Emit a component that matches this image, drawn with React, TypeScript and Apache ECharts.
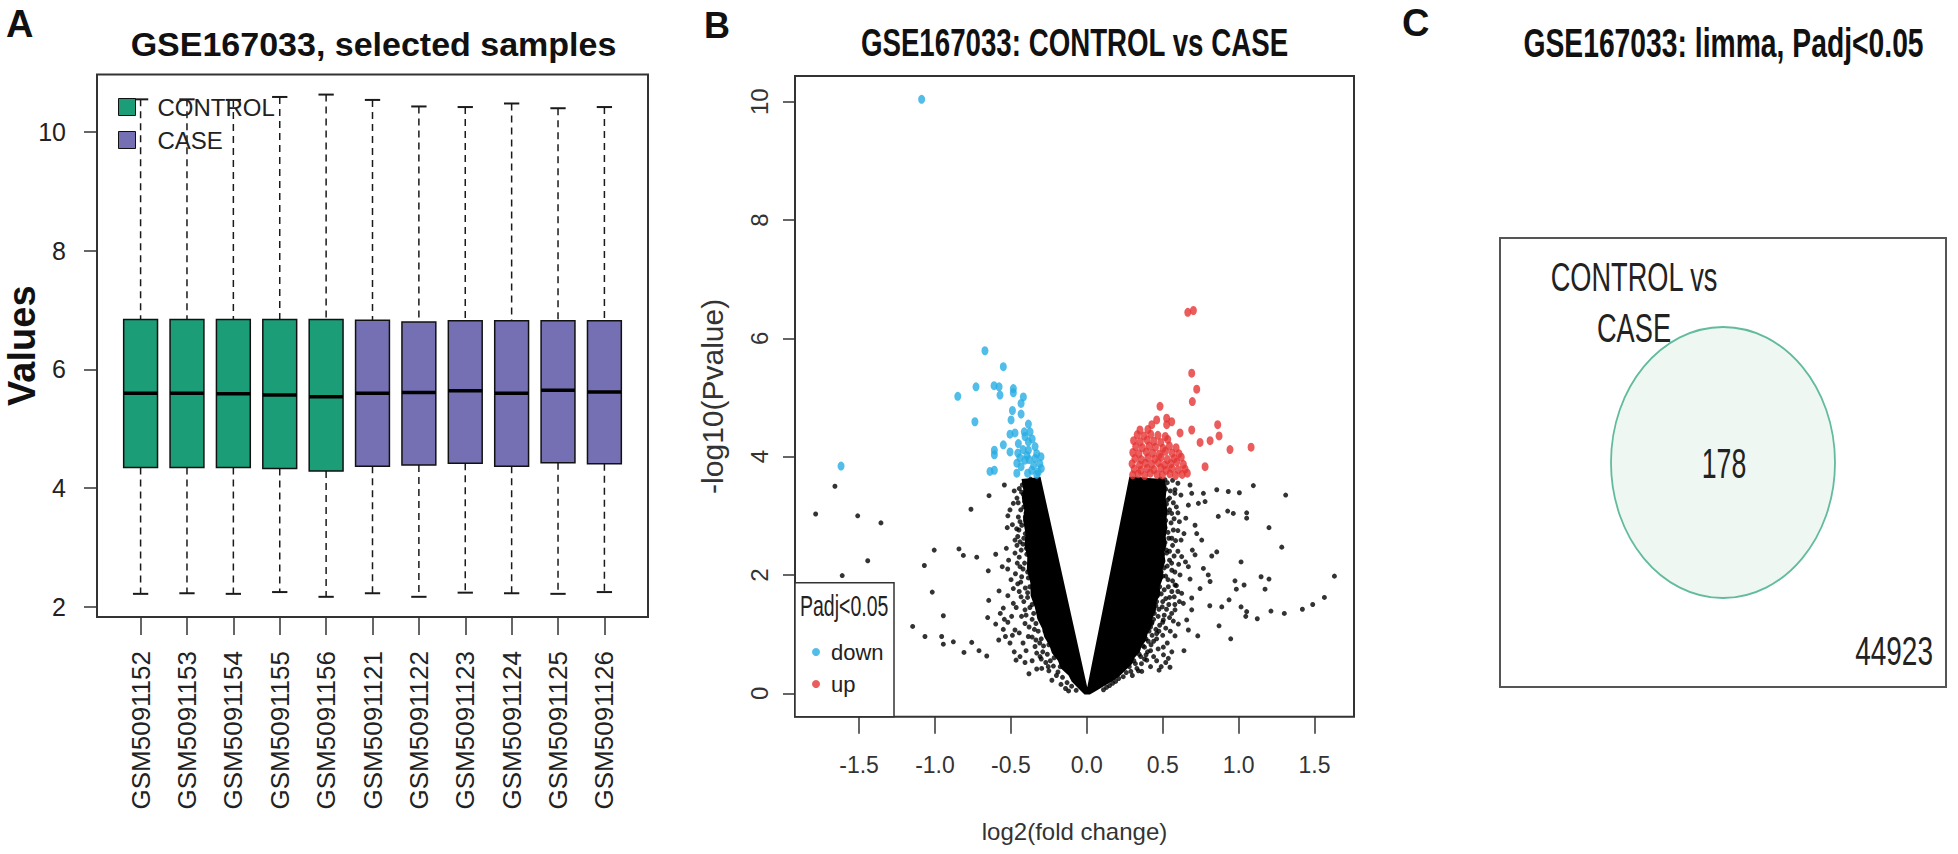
import React, { useEffect, useRef } from "react";
import * as echarts from "echarts";

const FONT = '"Liberation Sans", Arial, Helvetica, sans-serif';

// ---------------- Panel A: boxplot ----------------
const titleA = "GSE167033, selected samples";
const sampleNames = [
  "GSM5091152", "GSM5091153", "GSM5091154", "GSM5091155", "GSM5091156",
  "GSM5091121", "GSM5091122", "GSM5091123", "GSM5091124", "GSM5091125", "GSM5091126",
];
const sampleGroups = [
  "CONTROL", "CONTROL", "CONTROL", "CONTROL", "CONTROL",
  "CASE", "CASE", "CASE", "CASE", "CASE", "CASE",
];
const groupNames = ["CONTROL", "CASE"];
const groupColors = ["#1B9E77", "#7570B3"];
const boxLow = [2.22, 2.23, 2.22, 2.25, 2.17, 2.23, 2.17, 2.24, 2.23, 2.22, 2.25];
const boxQ1 = [4.35, 4.35, 4.35, 4.33, 4.29, 4.37, 4.39, 4.42, 4.37, 4.43, 4.41];
const boxMedian = [5.6, 5.6, 5.59, 5.57, 5.54, 5.6, 5.61, 5.64, 5.6, 5.65, 5.62];
const boxQ3 = [6.84, 6.84, 6.84, 6.84, 6.84, 6.83, 6.8, 6.82, 6.82, 6.82, 6.82];
const boxHigh = [10.55, 10.55, 10.54, 10.59, 10.63, 10.54, 10.43, 10.42, 10.48, 10.4, 10.42];
const boxYTicks = [2, 4, 6, 8, 10];

// ---------------- Panel B: volcano ----------------
const titleB = "GSE167033: CONTROL vs CASE";
const volcanoXTicks = [-1.5, -1.0, -0.5, 0.0, 0.5, 1.0, 1.5];
const volcanoYTicks = [0, 2, 4, 6, 8, 10];
const downPoints = [
  [-1.088, 10.04], [-1.619, 3.84], [-0.671, 5.79], [-0.55, 5.52], [-0.73, 5.18], [-0.611, 5.2],
  [-0.578, 5.18], [-0.572, 5.04], [-0.484, 5.15], [-0.484, 5.08], [-0.85, 5.02], [-0.418, 5.01],
  [-0.433, 4.9], [-0.49, 4.78], [-0.433, 4.72], [-0.499, 4.62], [-0.737, 4.59], [-0.385, 4.55],
  [-0.412, 4.42], [-0.374, 4.42], [-0.506, 4.38], [-0.473, 4.4], [-0.407, 4.34], [-0.385, 4.25],
  [-0.55, 4.2], [-0.451, 4.22], [-0.341, 4.17], [-0.609, 4.11], [-0.609, 4.03], [-0.506, 4.08],
  [-0.455, 4.06], [-0.385, 4.11], [-0.302, 4.0], [-0.341, 3.97], [-0.407, 3.94], [-0.461, 3.89],
  [-0.433, 3.83], [-0.363, 3.77], [-0.638, 3.75], [-0.609, 3.77], [-0.33, 3.7], [-0.461, 3.72],
  [-0.32, 3.74], [-0.35, 3.85], [-0.31, 3.88], [-0.38, 3.95], [-0.33, 4.05], [-0.36, 4.3],
  [-0.42, 4.12], [-0.39, 3.72], [-0.44, 3.98], [-0.3, 3.8], [-0.395, 4.02],
];
const upPoints = [
  [0.665, 6.44], [0.702, 6.47], [0.691, 5.41], [0.724, 5.14], [0.695, 4.93], [0.482, 4.85],
  [0.46, 4.62], [0.526, 4.65], [0.559, 4.59], [0.526, 4.54], [0.428, 4.54], [0.35, 4.45],
  [0.691, 4.45], [0.862, 4.54], [0.871, 4.35], [0.812, 4.27], [0.746, 4.24], [0.943, 4.12],
  [1.082, 4.16], [0.614, 4.4], [0.779, 3.83],
  [0.302, 3.69], [0.338, 3.71], [0.381, 3.68], [0.418, 3.72], [0.463, 3.7], [0.498, 3.69],
  [0.547, 3.71], [0.584, 3.68], [0.628, 3.7], [0.662, 3.72],
  [0.312, 3.79], [0.356, 3.77], [0.398, 3.8], [0.442, 3.78], [0.487, 3.81], [0.523, 3.77],
  [0.561, 3.8], [0.603, 3.78], [0.647, 3.79],
  [0.298, 3.88], [0.347, 3.86], [0.386, 3.89], [0.428, 3.87], [0.471, 3.9], [0.512, 3.86],
  [0.553, 3.88], [0.592, 3.91], [0.636, 3.87],
  [0.317, 3.97], [0.359, 3.95], [0.402, 3.98], [0.447, 3.96], [0.489, 3.99], [0.531, 3.95],
  [0.576, 3.97], [0.622, 3.99],
  [0.303, 4.07], [0.343, 4.05], [0.392, 4.08], [0.433, 4.06], [0.478, 4.04], [0.518, 4.09],
  [0.562, 4.06], [0.607, 4.05],
  [0.322, 4.17], [0.366, 4.15], [0.411, 4.18], [0.452, 4.16], [0.502, 4.14], [0.544, 4.18], [0.588, 4.15],
  [0.308, 4.27], [0.352, 4.25], [0.397, 4.28], [0.441, 4.26], [0.487, 4.24], [0.533, 4.29],
  [0.332, 4.37], [0.376, 4.35], [0.421, 4.38], [0.468, 4.36], [0.517, 4.34], [0.402, 4.46],
];
const nsPoints = [
  // left side, sparse
  [-1.659, 3.5], [-1.786, 3.03], [-1.509, 3.0], [-1.356, 2.88], [-1.443, 2.24], [-1.611, 1.99],
  [-0.763, 3.11], [-0.644, 3.34], [-0.543, 3.52], [-0.524, 2.8], [-1.005, 2.42], [-0.842, 2.44],
  [-0.813, 2.33], [-0.725, 2.3], [-1.07, 2.16], [-1.018, 1.71], [-0.945, 1.31], [-1.147, 1.13],
  [-1.066, 0.96], [-0.956, 0.96], [-0.945, 0.83], [-0.879, 0.87], [-0.758, 0.86], [-0.809, 0.69],
  [-0.71, 0.72], [-0.659, 0.63], [-0.653, 1.28], [-0.6, 1.17], [-0.649, 2.07], [-0.557, 2.14],
  [-0.578, 1.73], [-0.521, 2.1], [-0.55, 1.44], [-0.543, 1.25], [-0.55, 1.08], [-0.536, 0.96],
  [-0.466, 0.56], [-0.407, 0.52], [-0.381, 0.33], [-0.33, 0.41], [-0.297, 0.42], [-0.478, 0.7],
  [-0.4, 0.72], [-0.506, 0.85], [-0.473, 1.07], [-0.495, 1.3], [-0.484, 1.52], [-0.499, 1.92],
  [-0.484, 1.77], [-0.473, 2.37], [-0.473, 2.59], [-0.484, 3.21], [-0.506, 3.1], [-0.478, 3.42],
  [-0.451, 2.98], [-0.447, 2.76], [-0.44, 2.14], [-0.429, 1.97], [-0.433, 1.63], [-0.407, 1.41],
  [-0.407, 1.18], [-0.385, 0.96], [-0.341, 0.79], [-0.308, 0.62], [-0.254, 0.45], [-0.646, 1.57],
  [-0.46, 3.3], [-0.52, 3.0], [-0.49, 2.85], [-0.455, 2.65], [-0.53, 2.45], [-0.46, 2.5],
  [-0.445, 2.3], [-0.515, 2.25], [-0.47, 2.02], [-0.455, 1.85], [-0.52, 1.65], [-0.445, 1.72],
  [-0.465, 1.45], [-0.43, 1.3], [-0.52, 1.2], [-0.445, 1.02], [-0.42, 0.85], [-0.49, 0.98],
  [-0.44, 0.62], [-0.36, 0.55], [-0.33, 0.68], [-0.57, 1.35], [-0.58, 0.9], [-0.6, 2.35],
  // left arm fringe
  [-0.41, 3.55], [-0.43, 3.4], [-0.415, 3.15], [-0.44, 2.9], [-0.405, 2.7], [-0.42, 2.52],
  [-0.395, 2.35], [-0.41, 2.2], [-0.385, 1.95], [-0.375, 1.8], [-0.39, 1.62], [-0.36, 1.5],
  [-0.35, 1.35], [-0.335, 1.18], [-0.32, 1.05], [-0.3, 0.92], [-0.285, 0.8], [-0.26, 0.66],
  [-0.24, 0.55], [-0.22, 0.46], [-0.19, 0.36], [-0.16, 0.27], [-0.13, 0.18], [-0.1, 0.12],
  [-0.07, 0.05], [-0.37, 3.62], [-0.345, 3.58], [-0.395, 3.45], [-0.4, 3.05], [-0.38, 2.6],
  [-0.365, 2.25], [-0.355, 1.92], [-0.33, 1.55], [-0.31, 1.3], [-0.275, 1.05], [-0.25, 0.82],
  [-0.215, 0.6], [-0.175, 0.45],
  [-0.405, 3.48], [-0.425, 3.52], [-0.445, 3.46], [-0.418, 3.36], [-0.452, 3.22], [-0.41, 3.24],
  [-0.435, 3.1], [-0.405, 2.98], [-0.428, 2.84], [-0.462, 2.78], [-0.415, 2.62], [-0.44, 2.56],
  [-0.398, 2.45], [-0.432, 2.42], [-0.458, 2.2], [-0.42, 2.1], [-0.39, 2.05], [-0.435, 1.88],
  [-0.405, 1.78], [-0.39, 1.7], [-0.415, 1.55], [-0.375, 1.45], [-0.4, 1.32], [-0.36, 1.25],
  [-0.38, 1.12], [-0.345, 1.08], [-0.36, 0.95], [-0.31, 0.85], [-0.335, 0.9], [-0.29, 0.7],
  [-0.3, 0.58], [-0.27, 0.52], [-0.25, 0.38], [-0.2, 0.3], [-0.23, 0.22], [-0.17, 0.15],
  [-0.14, 0.08], [-0.12, 0.04],
  // right side, sparse
  [1.097, 3.51], [1.31, 3.35], [0.856, 3.44], [0.932, 3.41], [1.005, 3.39], [0.866, 2.99],
  [0.928, 3.08], [0.965, 3.04], [1.053, 3.05], [1.053, 2.96], [1.2, 2.8], [1.284, 2.47],
  [1.631, 1.98], [1.016, 2.22], [0.856, 2.39], [0.823, 2.32], [1.148, 1.97], [1.2, 1.93],
  [1.174, 1.76], [0.976, 1.9], [1.036, 1.83], [0.985, 1.76], [0.937, 1.58], [0.889, 1.46],
  [0.81, 1.48], [1.016, 1.46], [1.053, 1.38], [1.047, 1.3], [1.123, 1.26], [1.213, 1.39],
  [1.301, 1.35], [1.42, 1.42], [1.488, 1.5], [1.565, 1.62], [0.871, 1.14], [0.948, 0.92],
  [0.64, 0.72], [0.731, 0.97], [0.669, 1.07], [0.548, 0.44], [0.476, 0.39], [0.504, 0.78],
  [0.423, 0.82], [0.537, 0.59], [0.362, 0.37], [0.395, 0.56], [0.581, 0.97], [0.603, 1.17],
  [0.658, 1.24], [0.691, 1.41], [0.636, 1.52], [0.691, 1.61], [0.746, 1.77], [0.768, 2.11],
  [0.8, 2.0], [0.812, 1.89], [0.713, 2.34], [0.695, 2.42], [0.757, 2.59], [0.724, 2.7],
  [0.779, 3.24], [0.768, 3.38], [0.691, 3.38], [0.68, 3.52], [0.735, 3.21], [0.669, 3.18],
  [0.652, 2.96], [0.713, 2.84], [0.621, 2.59], [0.625, 2.31], [0.669, 2.14], [0.614, 2.0],
  [0.68, 1.93], [0.581, 1.83], [0.625, 1.69], [0.576, 1.63], [0.559, 1.35], [0.497, 1.46],
  [0.504, 1.24], [0.581, 1.41], [0.559, 3.04], [0.581, 3.44], [0.533, 3.27], [0.57, 2.76],
  [0.526, 2.37], [0.559, 2.2], [0.537, 1.8], [0.515, 3.61], [0.46, 1.01], [0.427, 1.18],
  // right arm fringe
  [0.5, 3.58], [0.52, 3.45], [0.49, 3.35], [0.545, 3.3], [0.505, 3.15], [0.53, 3.05],
  [0.5, 2.95], [0.555, 2.88], [0.515, 2.8], [0.49, 2.72], [0.54, 2.62], [0.5, 2.5],
  [0.565, 2.5], [0.525, 2.42], [0.49, 2.28], [0.545, 2.25], [0.51, 2.12], [0.58, 2.05],
  [0.5, 1.98], [0.535, 1.92], [0.47, 1.9], [0.56, 1.72], [0.49, 1.68], [0.52, 1.6],
  [0.46, 1.55], [0.54, 1.5], [0.475, 1.42], [0.445, 1.35], [0.51, 1.32], [0.43, 1.2],
  [0.48, 1.15], [0.455, 1.08], [0.41, 1.05], [0.5, 0.98], [0.39, 0.92], [0.44, 0.88],
  [0.37, 0.8], [0.4, 0.7], [0.345, 0.66], [0.31, 0.55], [0.36, 0.5], [0.28, 0.45],
  [0.26, 0.35], [0.21, 0.25], [0.17, 0.17], [0.13, 0.1], [0.3, 0.3], [0.33, 0.42],
  [0.44, 0.62], [0.42, 0.45], [0.47, 0.75], [0.505, 0.65], [0.6, 3.55], [0.62, 3.35],
  [0.59, 3.15], [0.61, 2.9], [0.64, 2.7], [0.6, 2.4], [0.65, 2.22], [0.59, 1.82],
  [0.61, 1.55], [0.57, 1.22], [0.55, 1.05], [0.53, 0.85],
  [0.485, 3.62], [0.53, 3.56], [0.565, 3.6], [0.51, 3.5], [0.55, 3.42], [0.58, 3.38],
  [0.495, 3.25], [0.525, 3.2], [0.57, 3.22], [0.6, 3.05], [0.545, 3.1], [0.49, 3.08],
  [0.52, 2.92], [0.575, 2.95], [0.5, 2.85], [0.535, 2.72], [0.6, 2.75], [0.56, 2.62],
  [0.49, 2.6], [0.515, 2.55], [0.585, 2.58], [0.545, 2.4], [0.5, 2.35], [0.575, 2.32],
  [0.48, 2.2], [0.53, 2.15], [0.605, 2.18], [0.56, 2.08], [0.49, 2.05], [0.52, 1.98],
  [0.565, 1.9], [0.48, 1.8], [0.51, 1.75], [0.6, 1.72], [0.465, 1.65], [0.545, 1.62],
  [0.5, 1.55], [0.58, 1.5], [0.455, 1.48], [0.525, 1.42], [0.47, 1.3], [0.545, 1.28],
  [0.44, 1.25], [0.5, 1.2], [0.42, 1.12], [0.475, 1.05], [0.52, 1.1], [0.43, 0.98],
  [0.405, 0.88], [0.46, 0.92], [0.38, 0.78], [0.42, 0.72], [0.355, 0.62], [0.38, 0.58],
  [0.32, 0.5], [0.34, 0.38], [0.29, 0.37], [0.24, 0.28], [0.19, 0.2], [0.15, 0.13],
  [0.11, 0.06], [0.39, 0.65], [0.46, 0.55], [0.49, 0.45], [0.56, 0.7], [0.52, 0.52],
];
// outline of the saturated (overplotted) core of the non-significant cloud
const denseCore = [
  [-0.43, 3.62], [-0.418, 3.45], [-0.428, 3.3], [-0.412, 3.1], [-0.42, 2.93], [-0.404, 2.7],
  [-0.41, 2.5], [-0.392, 2.3], [-0.395, 2.09], [-0.372, 1.87], [-0.37, 1.65], [-0.342, 1.45],
  [-0.325, 1.25], [-0.295, 1.1], [-0.28, 0.95], [-0.245, 0.8], [-0.23, 0.68], [-0.19, 0.55],
  [-0.17, 0.42], [-0.12, 0.3], [-0.1, 0.2], [-0.05, 0.07],
  [-0.015, -0.02], [0.02, -0.02], [0.06, 0.04], [0.12, 0.13], [0.18, 0.22], [0.22, 0.3],
  [0.255, 0.39], [0.3, 0.5], [0.315, 0.6], [0.35, 0.7], [0.36, 0.79], [0.392, 0.9],
  [0.4, 1.0], [0.425, 1.12], [0.43, 1.25], [0.455, 1.4], [0.46, 1.55], [0.485, 1.68],
  [0.48, 1.8], [0.502, 1.95], [0.5, 2.1], [0.518, 2.23], [0.51, 2.37], [0.525, 2.5],
  [0.52, 2.65], [0.53, 2.8], [0.525, 2.93], [0.53, 3.1], [0.52, 3.3], [0.525, 3.45], [0.51, 3.62],
  [0.4, 3.64], [0.33, 3.66], [0.28, 3.66], [0.003, 0.1], [-0.305, 3.66], [-0.36, 3.64],
];

// ---------------- Panel C: Venn ----------------
const titleC = "GSE167033: limma, Padj<0.05";
const vennSetLabel = ["CONTROL vs", "CASE"];
const vennInside = 178;
const vennOutside = 44923;

const renderBox = (params: any, api: any) => {
  const x = api.value(0);
  const top = api.coord([x, api.value(5)]);
  const q3 = api.coord([x, api.value(4)]);
  const med = api.coord([x, api.value(3)]);
  const q1 = api.coord([x, api.value(2)]);
  const bot = api.coord([x, api.value(1)]);
  const unit = api.size([1, 0])[0];
  const bw = unit * 0.73;
  const cw = unit * 0.33;
  const cx = top[0];
  const fill = api.visual("color");
  const dash = { stroke: "#1a1a1a", lineWidth: 1.5, lineDash: [7, 5] };
  const solid = { stroke: "#1a1a1a", lineWidth: 2 };
  return {
    type: "group",
    children: [
      { type: "line", shape: { x1: cx, y1: top[1], x2: cx, y2: q3[1] }, style: dash },
      { type: "line", shape: { x1: cx, y1: q1[1], x2: cx, y2: bot[1] }, style: dash },
      { type: "line", shape: { x1: cx - cw / 2, y1: top[1], x2: cx + cw / 2, y2: top[1] }, style: solid },
      { type: "line", shape: { x1: cx - cw / 2, y1: bot[1], x2: cx + cw / 2, y2: bot[1] }, style: solid },
      {
        type: "rect",
        shape: { x: cx - bw / 2, y: q3[1], width: bw, height: q1[1] - q3[1] },
        style: { fill, stroke: "#111", lineWidth: 1.5 },
      },
      { type: "line", shape: { x1: cx - bw / 2, y1: med[1], x2: cx + bw / 2, y2: med[1] }, style: { stroke: "#000", lineWidth: 3.5 } },
    ],
  };
};

const txt = (text: string, x: number, y: number, size: number, opts: any = {}) => ({
  type: "text",
  x,
  y,
  scaleX: opts.sx ?? 1,
  z: opts.z ?? 5,
  style: {
    text,
    fontSize: size,
    fontFamily: FONT,
    fontWeight: opts.bold ? "bold" : "normal",
    fill: opts.color ?? "#111",
    align: opts.align ?? "center",
    textAlign: opts.align ?? "center",
    verticalAlign: "middle",
    textVerticalAlign: "middle",
  },
});

export default function App() {
  const ref = useRef<HTMLDivElement>(null);
  useEffect(() => {
    if (!ref.current) return;
    const chart = echarts.init(ref.current, null, { renderer: "svg" });
    const sampleTicks = sampleNames.map((_, i) => i + 1);
    const boxSeries = groupNames.map((g, gi) => ({
      name: g,
      type: "custom",
      xAxisIndex: 0,
      yAxisIndex: 0,
      itemStyle: { color: groupColors[gi] },
      encode: { x: 0, y: [1, 2, 3, 4, 5] },
      data: sampleNames
        .map((_, i) =>
          sampleGroups[i] === g ? [i + 1, boxLow[i], boxQ1[i], boxMedian[i], boxQ3[i], boxHigh[i]] : null
        )
        .filter((d) => d !== null),
      renderItem: renderBox,
      z: 2,
    }));

    const tickStyle = { color: "#333", width: 1.5 };
    const option: any = {
      animation: false,
      backgroundColor: "#fff",
      grid: [
        { left: 97, top: 74.4, width: 551, height: 542.6, show: true, borderColor: "#333", borderWidth: 2, backgroundColor: "transparent", containLabel: false, outerBoundsMode: "none" },
        { left: 795, top: 76, width: 559, height: 640.7, show: true, borderColor: "#333", borderWidth: 2, backgroundColor: "transparent", containLabel: false, outerBoundsMode: "none" },
      ],
      xAxis: [
        {
          type: "value",
          gridIndex: 0,
          min: 0.06,
          max: 11.94,
          axisLine: { show: false, onZero: false },
          splitLine: { show: false },
          axisTick: { show: true, length: 18, customValues: sampleTicks, lineStyle: tickStyle },
          axisLabel: {
            customValues: sampleTicks,
            rotate: 90,
            margin: 34,
            fontSize: 26,
            fontFamily: FONT,
            color: "#222",
            formatter: (v: number) => sampleNames[Math.round(v) - 1] ?? "",
          },
        },
        {
          type: "value",
          gridIndex: 1,
          min: -1.922,
          max: 1.76,
          axisLine: { show: false, onZero: false },
          splitLine: { show: false },
          axisTick: { show: true, length: 17, customValues: volcanoXTicks, lineStyle: tickStyle },
          axisLabel: {
            customValues: volcanoXTicks,
            margin: 37,
            fontSize: 23,
            fontFamily: FONT,
            color: "#333",
            formatter: (v: number) => v.toFixed(1),
          },
          name: "log2(fold change)",
          nameLocation: "middle",
          nameGap: 103,
          nameMoveOverlap: false,
          nameTextStyle: { fontSize: 24, fontFamily: FONT, color: "#333" },
        },
      ],
      yAxis: [
        {
          type: "value",
          gridIndex: 0,
          min: 1.83,
          max: 10.97,
          axisLine: { show: false, onZero: false },
          splitLine: { show: false },
          axisTick: { show: true, length: 13, customValues: boxYTicks, lineStyle: tickStyle },
          axisLabel: { customValues: boxYTicks, margin: 31, fontSize: 25, fontFamily: FONT, color: "#222" },
          name: "Values",
          nameLocation: "middle",
          nameGap: 56,
          nameMoveOverlap: false,
          nameTextStyle: { fontSize: 38, fontWeight: "bold", fontFamily: FONT, color: "#111" },
        },
        {
          type: "value",
          gridIndex: 1,
          min: -0.396,
          max: 10.434,
          axisLine: { show: false, onZero: false },
          splitLine: { show: false },
          axisTick: { show: true, length: 12, customValues: volcanoYTicks, lineStyle: tickStyle },
          axisLabel: { customValues: volcanoYTicks, rotate: 90, margin: 24, fontSize: 24, fontFamily: FONT, color: "#333" },
          name: "-log10(Pvalue)",
          nameLocation: "middle",
          nameGap: 68,
          nameMoveOverlap: false,
          nameTextStyle: { fontSize: 30, fontFamily: FONT, color: "#333" },
        },
      ],
      legend: [
        {
          data: groupNames,
          orient: "vertical",
          left: 118,
          top: 95,
          padding: 0,
          itemWidth: 17,
          itemHeight: 17,
          itemGap: 9,
          icon: "rect",
          selectedMode: false,
          itemStyle: { borderColor: "#111", borderWidth: 1 },
          textStyle: { fontSize: 24, lineHeight: 24, fontFamily: FONT, color: "#222", padding: [0, 0, 0, 17] },
        },
        {
          data: ["down", "up"],
          orient: "vertical",
          left: 812,
          top: 640,
          padding: 0,
          itemWidth: 8,
          itemHeight: 8,
          itemGap: 8,
          icon: "circle",
          selectedMode: false,
          z: 10,
          textStyle: { fontSize: 22, lineHeight: 24, fontFamily: FONT, color: "#222", padding: [0, 0, 0, 6] },
        },
      ],
      series: [
        ...boxSeries,
        {
          name: "core",
          type: "custom",
          xAxisIndex: 1,
          yAxisIndex: 1,
          silent: true,
          z: 1,
          data: [[0, 0]],
          renderItem: (params: any, api: any) => ({
            type: "polygon",
            shape: { points: denseCore.map((p) => api.coord(p)) },
            style: { fill: "#000" },
          }),
        },
        {
          name: "ns",
          type: "scatter",
          xAxisIndex: 1,
          yAxisIndex: 1,
          data: nsPoints,
          symbolSize: 5,
          itemStyle: { color: "#000" },
          silent: true,
          z: 2,
        },
        {
          name: "down",
          type: "scatter",
          xAxisIndex: 1,
          yAxisIndex: 1,
          data: downPoints,
          symbolSize: [7, 9],
          itemStyle: { color: "#27ADE3" },
          z: 3,
        },
        {
          name: "up",
          type: "scatter",
          xAxisIndex: 1,
          yAxisIndex: 1,
          data: upPoints,
          symbolSize: [7, 9],
          itemStyle: { color: "#E53433" },
          z: 3,
        },
      ],
      graphic: [
        txt("A", 6, 24, 38, { bold: true, align: "left" }),
        txt("B", 704, 25, 36, { bold: true, align: "left" }),
        txt("C", 1402, 23, 38, { bold: true, align: "left" }),
        txt(titleA, 373.5, 43.5, 34, { bold: true }),
        txt(titleB, 1074.5, 42.5, 39, { bold: true, sx: 0.71 }),
        txt(titleC, 1723.5, 42, 41, { bold: true, sx: 0.69 }),
        {
          type: "rect",
          z: 8,
          shape: { x: 795, y: 582.7, width: 99, height: 134 },
          style: { fill: "#fff", stroke: "#333", lineWidth: 1.5 },
        },
        txt("Padj<0.05", 800, 605, 30, { align: "left", sx: 0.65, z: 9, color: "#222" }),
        {
          type: "rect",
          shape: { x: 1500, y: 238, width: 446, height: 449 },
          style: { fill: "none", stroke: "#555", lineWidth: 2 },
        },
        {
          type: "ellipse",
          shape: { cx: 1723, cy: 462.5, rx: 112, ry: 135.5 },
          style: { fill: "#eff7f3", stroke: "#62bb9c", lineWidth: 1.8 },
        },
        txt(vennSetLabel[0], 1634, 276.5, 40, { sx: 0.68, color: "#222" }),
        txt(vennSetLabel[1], 1634, 328, 40, { sx: 0.68, color: "#222" }),
        txt(String(vennInside), 1724, 464, 43, { sx: 0.62, color: "#222" }),
        txt(String(vennOutside), 1933, 651, 40, { sx: 0.7, align: "right", color: "#222" }),
      ],
    };
    chart.setOption(option);
    return () => chart.dispose();
  }, []);
  return (
    <div
      ref={ref}
      style={{ position: "fixed", left: 0, top: 0, width: 1958, height: 854, background: "#fff" }}
    />
  );
}
